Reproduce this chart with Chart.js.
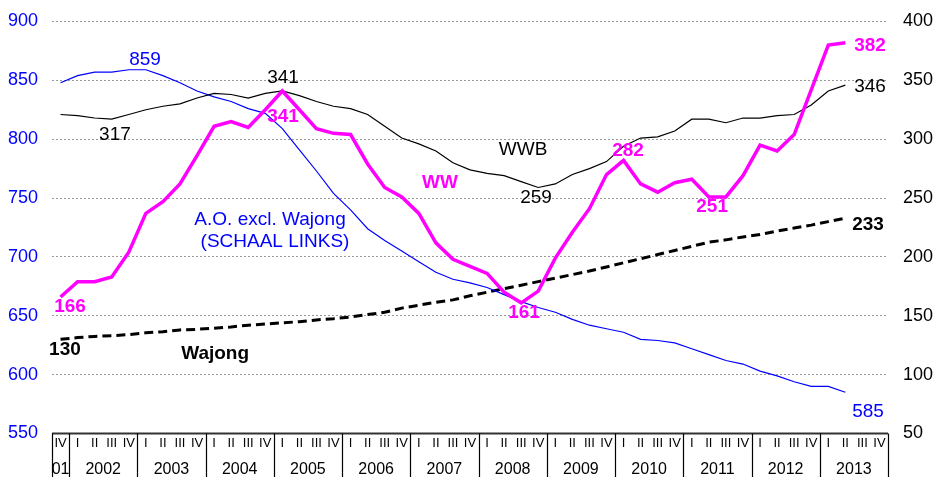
<!DOCTYPE html>
<html><head><meta charset="utf-8">
<script src="https://cdn.jsdelivr.net/npm/chart.js@4/dist/chart.umd.min.js"></script>
<style>html,body{margin:0;padding:0;background:#fff;}</style>
</head><body>
<canvas id="c" width="938" height="477"></canvas>
<script>
// Quarter tick labels: 2001 IV .. 2013 IV
const quarterLabels = ["IV",
 "I","II","III","IV", "I","II","III","IV", "I","II","III","IV", "I","II","III","IV",
 "I","II","III","IV", "I","II","III","IV", "I","II","III","IV", "I","II","III","IV",
 "I","II","III","IV", "I","II","III","IV", "I","II","III","IV", "I","II","III","IV"];
const yearLabels = ["01","2002","2003","2004","2005","2006","2007","2008","2009","2010","2011","2012","2013"];

// A.O. excl. Wajong (left scale)
const aoExclWajong = [848,854,857,857,859,859,854,848,841,836,832,826,822,809,791,773,754,740,724,714,705,696,687,681,678,674,668,662,657,653,647,642,639,636,630,629,627,622,617,612,609,603,599,594,590,590,585];
// WWB (right scale)
const wwb = [321,320,318,317,321,325,328,330,335,339,338,335,339,341,337,332,328,326,321,311,301,296,290,280,274,271,269,264,259,262,270,275,281,294,301,302,307,317,317,314,318,318,320,321,329,341,346];
// WW (right scale)
const ww = [166,179,179,183,204,237,247,262,286,311,315,310,325,341,325,309,305,304,279,259,251,237,212,198,192,186,170,161,171,199,221,241,270,282,262,255,263,266,251,251,269,295,290,304,342,380,382];
// Wajong (right scale)
const wajong = [130,131.5,132.5,133,134,135.5,136.5,138,138.5,139.5,140.5,142,143,144,145,146.5,147.5,149,151,153,156.5,159,161.5,163.5,167,170,173,176,179,182,185,188,191.5,195,198.5,202,205.5,209,212.5,214.5,217,219,222,224.5,227,230,233];

// Text labels placed in data space (category index, right-scale value)
const notes = [
  {t:"859", i:4.95, v:367.4, c:"#0000FF", b:false},
  {t:"341", i:13.04, v:352.2, c:"#000000", b:false},
  {t:"317", i:3.19, v:303.7, c:"#000000", b:false},
  {t:"341", i:13.04, v:319, c:"#FF00FF", b:true},
  {t:"A.O. excl. Wajong", i:12.28, v:231.5, c:"#0000FF", b:false},
  {t:"(SCHAAL LINKS)", i:12.57, v:213, c:"#0000FF", b:false},
  {t:"WW", i:22.24, v:262.9, c:"#FF00FF", b:true},
  {t:"WWB", i:27.11, v:291, c:"#000000", b:false},
  {t:"259", i:27.87, v:250.2, c:"#000000", b:false},
  {t:"161", i:27.17, v:152.4, c:"#FF00FF", b:true},
  {t:"282", i:33.26, v:290.1, c:"#FF00FF", b:true},
  {t:"251", i:38.19, v:242.5, c:"#FF00FF", b:true},
  {t:"382", i:47.45, v:379.3, c:"#FF00FF", b:true},
  {t:"346", i:47.45, v:344.5, c:"#000000", b:false},
  {t:"233", i:47.33, v:227.2, c:"#000000", b:true},
  {t:"585", i:47.33, v:68.3, c:"#0000FF", b:false},
  {t:"166", i:0.56, v:157.5, c:"#FF00FF", b:true},
  {t:"130", i:0.26, v:121, c:"#000000", b:true},
  {t:"Wajong", i:9.06, v:117.6, c:"#000000", b:true}
];

const FONT = "'Liberation Sans', Arial, sans-serif";

const decor = {
  id: 'decor',
  afterDatasetsDraw(chart) {
    const ctx = chart.ctx, xs = chart.scales.x, ys = chart.scales.y1, ca = chart.chartArea;
    const p = k => xs.getPixelForValue(k);
    const half = (p(1) - p(0)) / 2;
    ctx.save();
    ctx.textAlign = 'center'; ctx.textBaseline = 'middle';
    notes.forEach(n => {
      const x = p(0) + (p(1) - p(0)) * n.i;
      const y = ys.getPixelForValue(n.v);
      ctx.font = (n.b ? 'bold ' : '') + '19px ' + FONT;
      ctx.fillStyle = n.c;
      ctx.fillText(n.t, x, y);
    });
    ctx.strokeStyle = '#333'; ctx.lineWidth = 2;
    ctx.beginPath(); ctx.moveTo(ca.left, ca.bottom); ctx.lineTo(ca.right, ca.bottom); ctx.stroke();
    ctx.lineWidth = 1.2; ctx.strokeStyle = '#000';
    const bounds = [p(0) - half];
    for (let k = 0; k < quarterLabels.length; k++) {
      if (quarterLabels[k] === 'IV') bounds.push(p(k) + half);
    }
    ctx.beginPath();
    bounds.forEach(b => { const xb = Math.round(b) + 0.5; ctx.moveTo(xb, ca.bottom); ctx.lineTo(xb, chart.height); });
    ctx.stroke();
    ctx.fillStyle = '#000'; ctx.font = '16px ' + FONT;
    for (let k = 0; k < yearLabels.length; k++) {
      const xc = (bounds[k] + bounds[k + 1]) / 2;
      ctx.fillText(yearLabels[k], xc, 470);
    }
    ctx.restore();
  }
};

new Chart(document.getElementById('c'), {
  type: 'line',
  data: {
    labels: quarterLabels,
    datasets: [
      {label:'WW', data: ww, yAxisID:'y1', borderColor:'#FF00FF', borderWidth:3.5, pointRadius:0, tension:0, fill:false},
      {label:'WWB', data: wwb, yAxisID:'y1', borderColor:'#000000', borderWidth:1.2, pointRadius:0, tension:0, fill:false},
      {label:'A.O. excl. Wajong', data: aoExclWajong, yAxisID:'y', borderColor:'#0000FF', borderWidth:1.2, pointRadius:0, tension:0, fill:false},
      {label:'Wajong', data: wajong, yAxisID:'y1', borderColor:'#000000', borderWidth:3, borderDash:[9,5], pointRadius:0, tension:0, fill:false}
    ]
  },
  options: {
    responsive: false,
    animation: false,
    devicePixelRatio: 1,
    layout: {padding: {top: 21.5, left: 0, right: 0, bottom: 0}},
    plugins: {legend: {display: false}, tooltip: {enabled: false}},
    scales: {
      x: {
        type: 'category', offset: true,
        grid: {display: false, drawTicks: false},
        border: {display: false},
        ticks: {autoSkip: false, maxRotation: 0, minRotation: 0, color: '#000', padding: 2,
                font: {family: FONT, size: 13}},
        afterFit: s => { s.height = 43.5; }
      },
      y: {
        position: 'left', min: 550, max: 900,
        ticks: {stepSize: 50, color: '#0000FF', padding: 14, font: {family: FONT, size: 18}},
        grid: {color: '#999999', lineWidth: 1, drawTicks: false},
        border: {display: false, dash: [2, 2]},
        afterFit: s => { s.width = 52; s.paddingTop = 0; s.paddingBottom = 0; }
      },
      y1: {
        position: 'right', min: 50, max: 400,
        ticks: {stepSize: 50, color: '#000', padding: 15, font: {family: FONT, size: 18}},
        grid: {display: false, drawTicks: false},
        border: {display: false},
        afterFit: s => { s.width = 50; s.paddingTop = 0; s.paddingBottom = 0; }
      }
    }
  },
  plugins: [decor]
});
</script>
</body></html>
